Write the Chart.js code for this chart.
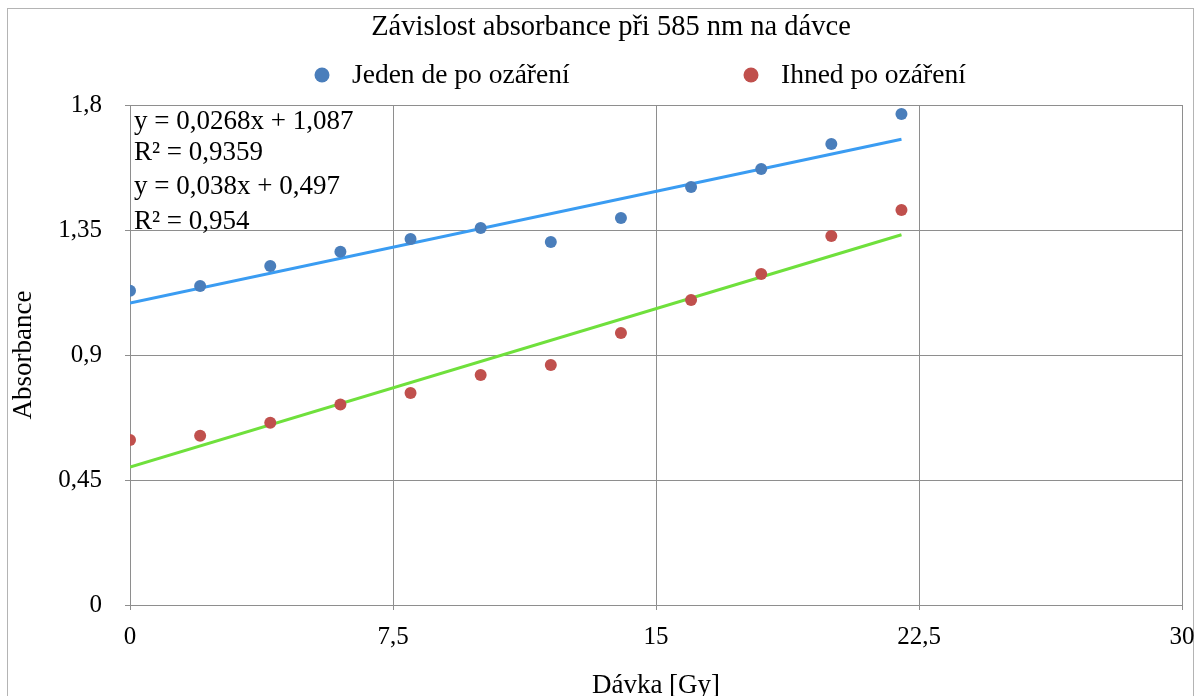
<!DOCTYPE html>
<html lang="cs">
<head>
<meta charset="utf-8">
<title>Závislost absorbance při 585 nm na dávce</title>
<script src="https://cdn.jsdelivr.net/npm/chart.js@4.4.1/dist/chart.umd.min.js"></script>
<style>
  html, body { margin: 0; padding: 0; overflow: hidden; background: #fff; }
  canvas { display: block; }
</style>
</head>
<body>
<canvas id="chart" width="1196" height="720"></canvas>
<script>
// Data
const doses = [0, 2, 4, 6, 8, 10, 12, 14, 16, 18, 20, 22];
const dayAfter = [1.131, 1.148, 1.220, 1.272, 1.318, 1.357, 1.307, 1.393, 1.505, 1.570, 1.660, 1.768];
const immediately = [0.594, 0.609, 0.656, 0.722, 0.763, 0.828, 0.864, 0.979, 1.098, 1.192, 1.328, 1.422];

// Linear trendlines as printed in the chart: [slope, intercept]
const dayAfterFit = [0.0268, 1.087];
const immediatelyFit = [0.038, 0.497];
const fitRange = [0, 22];

const xTicks = [0, 7.5, 15, 22.5, 30];
const yTicks = [0, 0.45, 0.9, 1.35, 1.8];

const titleText = 'Závislost absorbance při 585 nm na dávce';
const seriesLabels = ['Jeden de po ozáření', 'Ihned po ozáření'];
const equationLines = ['y = 0,0268x + 1,087', 'R² = 0,9359', 'y = 0,038x + 0,497', 'R² = 0,954'];

const SERIF = "'Liberation Serif', 'Times New Roman', serif";
const GRID = '#8e8e8e';

function toPoints(xs, ys) {
    return xs.map((x, i) => ({ x: x, y: ys[i] }));
}

function fitLine(fit) {
    return fitRange.map(x => ({ x: x, y: fit[0] * x + fit[1] }));
}

function fmt(v) {
    return String(Number(v.toFixed(2))).replace('.', ',');
}

// Frame, title, legend and equation text
const decorPlugin = {
    id: 'decor',
    beforeDraw(chart) {
        const ctx = chart.ctx;
        ctx.save();
        ctx.fillStyle = '#fff';
        ctx.fillRect(0, 0, chart.width, chart.height);
        ctx.strokeStyle = '#b4b4b4';
        ctx.lineWidth = 1;
        ctx.strokeRect(7.5, 8.5, 1186, 740);
        ctx.restore();
    },
    afterDraw(chart) {
        const ctx = chart.ctx;
        ctx.save();
        ctx.fillStyle = '#000';
        ctx.textBaseline = 'middle';

        // title
        ctx.font = '28.5px ' + SERIF;
        ctx.textAlign = 'center';
        ctx.fillText(titleText, 611, 28);

        // legend
        ctx.font = '27.5px ' + SERIF;
        const legendX = [322, 751];
        chart.data.datasets.filter(d => d.inLegend).forEach((d, i) => {
            ctx.fillStyle = d.backgroundColor;
            ctx.beginPath();
            ctx.arc(legendX[i], 75, 7.5, 0, Math.PI * 2);
            ctx.fill();
            ctx.fillStyle = '#000';
            ctx.textAlign = 'left';
            ctx.fillText(d.label, legendX[i] + 30, 76);
        });

        // trendline equations
        ctx.font = '27px ' + SERIF;
        ctx.textAlign = 'left';
        const lineY = [122, 153, 187, 222];
        equationLines.forEach((t, i) => ctx.fillText(t, 134, lineY[i]));
        ctx.restore();
    }
};

new Chart(document.getElementById('chart'), {
    type: 'scatter',
    data: {
        datasets: [
            {
                label: seriesLabels[0],
                inLegend: true,
                data: toPoints(doses, dayAfter),
                backgroundColor: '#4a7ebb',
                borderWidth: 0,
                pointRadius: 6,
                order: 0
            },
            {
                label: seriesLabels[1],
                inLegend: true,
                data: toPoints(doses, immediately),
                backgroundColor: '#c0504d',
                borderWidth: 0,
                pointRadius: 6,
                order: 0
            },
            {
                label: 'Lineární (Jeden de po ozáření)',
                data: fitLine(dayAfterFit),
                showLine: true,
                borderColor: '#3a9cf2',
                borderWidth: 3,
                pointRadius: 0,
                order: 1
            },
            {
                label: 'Lineární (Ihned po ozáření)',
                data: fitLine(immediatelyFit),
                showLine: true,
                borderColor: '#6fe03c',
                borderWidth: 3,
                pointRadius: 0,
                order: 1
            }
        ]
    },
    options: {
        responsive: false,
        animation: false,
        layout: { padding: { top: 105, right: 14, left: 8, bottom: 0 } },
        plugins: {
            legend: { display: false },
            title: { display: false },
            tooltip: { enabled: false }
        },
        scales: {
            x: {
                type: 'linear',
                min: 0,
                max: 30,
                afterBuildTicks: s => { s.ticks = xTicks.map(v => ({ value: v })); },
                afterFit: s => {
                    s.height = 115;
                    // let the last label hang over the plot edge like the original
                    s.paddingLeft = 0;
                    s.paddingRight = 0;
                },
                grid: { color: GRID, lineWidth: 1, tickLength: 5, drawTicks: true },
                border: { display: true, color: GRID, width: 1 },
                ticks: {
                    callback: v => fmt(v),
                    color: '#000',
                    font: { family: SERIF, size: 25 },
                    padding: 12,
                    maxRotation: 0
                },
                title: {
                    display: true,
                    text: 'Dávka [Gy]',
                    color: '#000',
                    font: { family: SERIF, size: 27 },
                    padding: { top: 0, bottom: 18 }
                }
            },
            y: {
                type: 'linear',
                min: 0,
                max: 1.8,
                afterBuildTicks: s => { s.ticks = yTicks.map(v => ({ value: v })); },
                afterFit: s => { s.width = 122; },
                grid: { color: GRID, lineWidth: 1, tickLength: 5, drawTicks: true },
                border: { display: true, color: GRID, width: 1 },
                ticks: {
                    callback: v => fmt(v),
                    color: '#000',
                    font: { family: SERIF, size: 25 },
                    padding: 23
                },
                title: {
                    display: true,
                    text: 'Absorbance',
                    color: '#000',
                    font: { family: SERIF, size: 27 },
                    padding: 0
                }
            }
        }
    },
    plugins: [decorPlugin]
});
</script>
</body>
</html>
